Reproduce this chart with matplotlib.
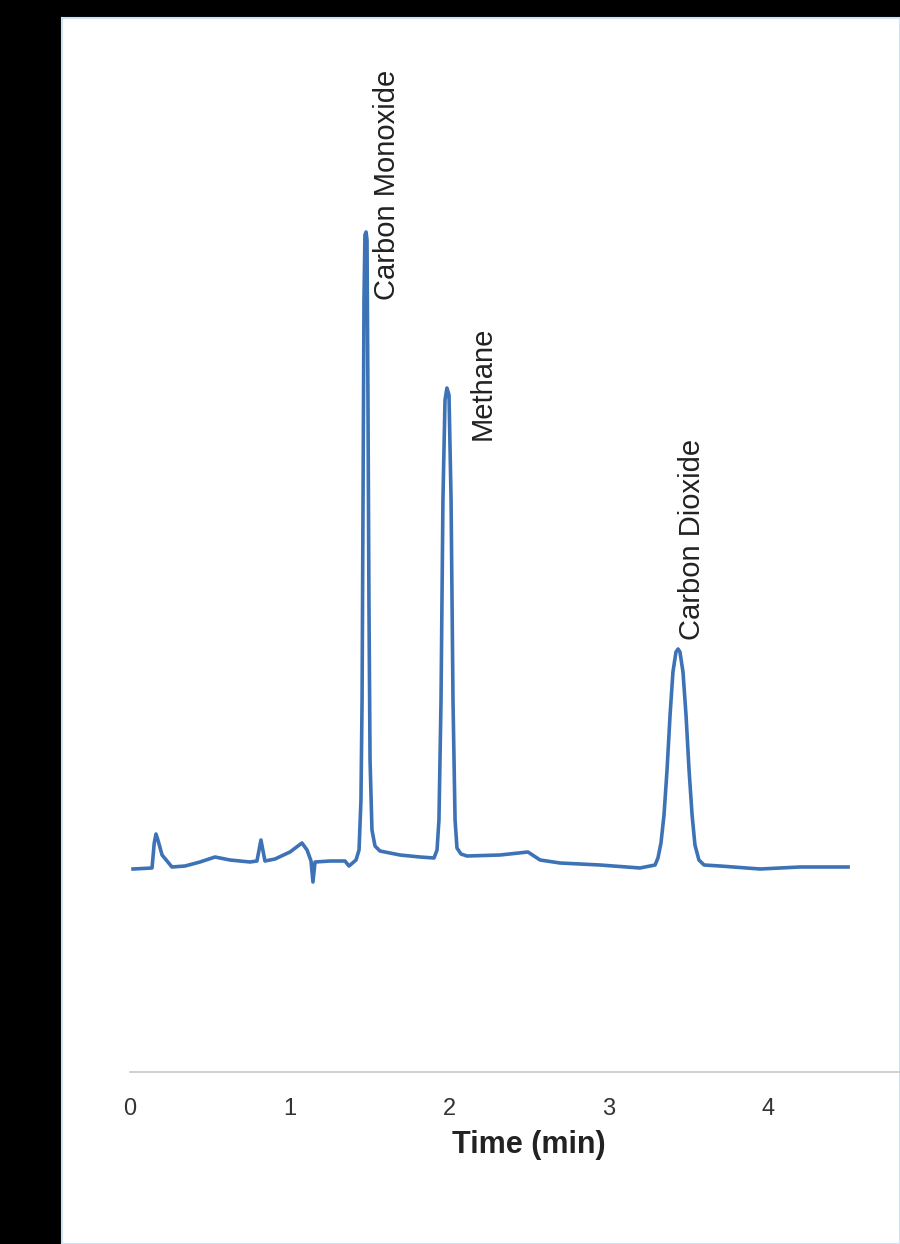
import numpy as np
import matplotlib
matplotlib.use("Agg")
import matplotlib.pyplot as plt

plt.rcParams['font.family'] = ['Liberation Sans', 'DejaVu Sans']

# chromatogram trace (time in min, signal in a.u.)
time = [0.019, 0.138, 0.152, 0.163, 0.175, 0.201, 0.263, 0.345, 0.439, 0.533,
        0.627, 0.752, 0.796, 0.821, 0.846, 0.909, 1.003, 1.078, 1.110, 1.135,
        1.147, 1.160, 1.254, 1.348, 1.373, 1.417,
        1.436, 1.448, 1.455, 1.461, 1.467, 1.473, 1.480, 1.486, 1.492, 1.498,
        1.505, 1.517, 1.536, 1.567, 1.630, 1.693, 1.818, 1.906,
        1.925, 1.937, 1.950, 1.962, 1.975, 1.987, 2.000, 2.013, 2.025, 2.038,
        2.050, 2.075, 2.113, 2.320, 2.495, 2.571, 2.696, 2.947, 3.197, 3.292,
        3.310, 3.329, 3.348, 3.367, 3.386, 3.404, 3.423, 3.436, 3.448, 3.467,
        3.486, 3.505, 3.524, 3.542, 3.567, 3.599, 3.699, 3.950, 4.201, 4.502]
signal = [-0.1, 0.0, 2.5, 3.4, 2.8, 1.3, 0.1, 0.2, 0.6, 1.1,
          0.8, 0.6, 0.7, 2.8, 0.7, 0.9, 1.6, 2.5, 1.8, 0.7,
          -1.4, 0.6, 0.7, 0.7, 0.2, 0.8,
          1.8, 6.8, 16.8, 36.8, 56.8, 63.3, 63.6, 62.8, 46.8, 26.8,
          10.8, 3.8, 2.2, 1.7, 1.5, 1.3, 1.1, 1.0,
          1.8, 4.8, 16.8, 36.8, 46.8, 48.0, 47.3, 36.8, 16.8, 4.8,
          2.0, 1.4, 1.2, 1.3, 1.6, 0.8, 0.5, 0.3, 0.0, 0.3,
          1.0, 2.5, 5.3, 9.8, 15.3, 19.6, 21.6, 21.9, 21.6, 19.6,
          15.3, 9.8, 5.3, 2.3, 0.8, 0.3, 0.2, -0.1, 0.1, 0.1]

peak_names = ["Carbon Monoxide", "Methane", "Carbon Dioxide"]
label_t = [1.611, 2.213, 3.524]
label_s = [56.8, 42.8, 22.8]

ticks = [0, 1, 2, 3, 4]

fig = plt.figure(figsize=(9, 12.44), dpi=100, facecolor='black')

# white panel behind the chart
bg = fig.add_axes([62 / 900, 0, 1 - 62 / 900, 1 - 18 / 1244])
bg.set_facecolor('white')
bg.set_xticks([])
bg.set_yticks([])
for sp in bg.spines.values():
    sp.set_color('#cfe2f3')
    sp.set_linewidth(1.5)

ax = fig.add_axes([130 / 900, 1 - 1072 / 1244, 770 / 900, 1042 / 1244])
ax.set_facecolor('none')
ax.plot(time, signal, color='#3d73b6', lw=2.6, solid_joinstyle='round')

for name, t, s in zip(peak_names, label_t, label_s):
    ax.text(t, s, name, rotation=90, ha='center', va='bottom',
            fontsize=21, color='#222222')

ax.set_xlim(0, 770 / 159.5)
ax.set_ylim(-20.4, 83.8)
ax.set_xticks(ticks)
ax.set_xticklabels([str(t) for t in ticks], fontsize=17, color='#333333')
ax.tick_params(axis='x', length=0, pad=19)
ax.set_yticks([])
for side in ['top', 'right', 'left']:
    ax.spines[side].set_visible(False)
ax.spines['bottom'].set_color('#c8c8c8')
ax.spines['bottom'].set_linewidth(1.2)

ax.set_xlabel("Time (min)", fontsize=22, fontweight='bold', color='#222222')
ax.xaxis.set_label_coords((529 - 130) / 770, -0.056)

fig.savefig("out.png", dpi=100, facecolor='black')
